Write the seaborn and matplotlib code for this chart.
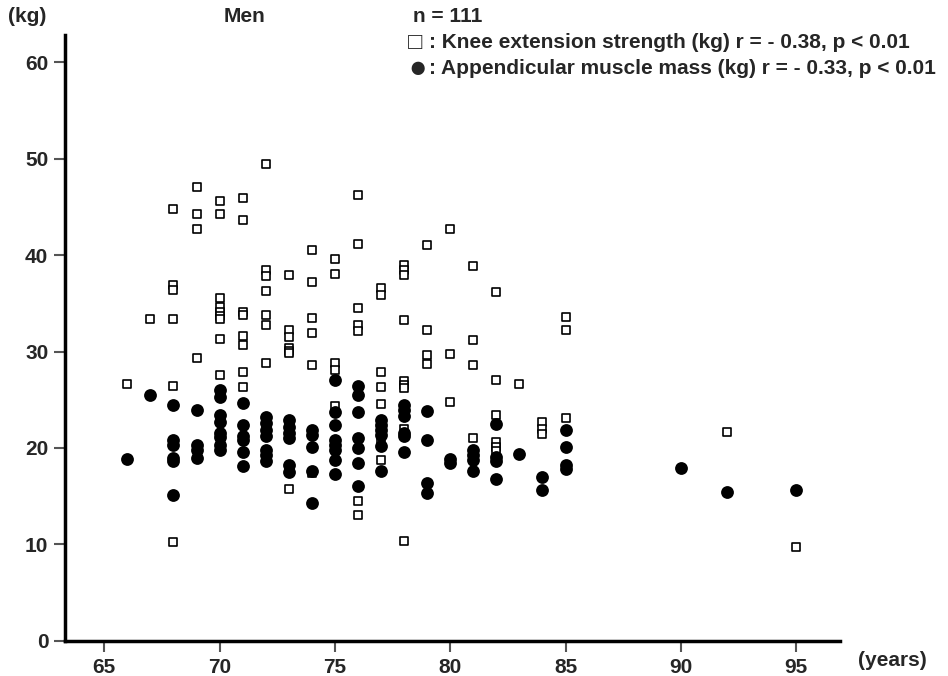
import pandas as pd
import seaborn as sns
from matplotlib import pyplot as plt

# Knee extension strength (open squares)
knee_age = [66, 67,
            68, 68, 68, 68, 68, 68,
            69, 69, 69, 69,
            70, 70, 70, 70, 70, 70, 70, 70, 70,
            71, 71, 71, 71, 71, 71, 71, 71,
            72, 72, 72, 72, 72, 72, 72,
            73, 73, 73, 73, 73, 73, 73,
            74, 74, 74, 74, 74, 74,
            75, 75, 75, 75, 75,
            76, 76, 76, 76, 76, 76, 76,
            77, 77, 77, 77, 77, 77, 77,
            78, 78, 78, 78, 78, 78, 78, 78, 78,
            79, 79, 79, 79,
            80, 80, 80,
            81, 81, 81, 81,
            82, 82, 82, 82, 82, 82,
            83,
            84, 84, 84,
            85, 85, 85,
            92, 95]
knee_kg = [26.6, 33.4,
           44.8, 36.9, 36.4, 33.4, 26.4, 10.2,
           47.1, 44.3, 42.7, 29.3,
           45.6, 44.3, 35.5, 34.6, 34.1, 33.7, 33.4, 31.3, 27.6,
           45.9, 43.6, 34.1, 33.8, 31.6, 30.7, 27.9, 26.3,
           49.4, 38.4, 37.8, 36.3, 33.8, 32.7, 28.8,
           37.9, 32.2, 31.5, 30.4, 30.1, 29.8, 15.7,
           40.5, 37.2, 33.5, 31.9, 28.6, 17.4,
           39.6, 38.0, 28.8, 28.1, 24.4,
           46.2, 41.1, 34.5, 32.7, 32.1, 14.5, 13.0,
           36.6, 35.9, 27.9, 26.3, 24.6, 20.7, 18.8,
           39.0, 38.4, 37.9, 33.3, 26.9, 26.5, 26.2, 22.0, 10.4,
           41.0, 32.2, 29.6, 28.7,
           42.7, 29.7, 24.8,
           38.9, 31.2, 28.6, 21.0,
           36.2, 27.0, 23.4, 20.6, 20.1, 19.7,
           26.6,
           22.7, 22.0, 21.4,
           33.6, 32.2, 23.1,
           21.7, 9.7]

# Appendicular muscle mass (filled circles)
amm_age = [66, 67,
           68, 68, 68, 68, 68, 68,
           69, 69, 69, 69,
           70, 70, 70, 70, 70, 70, 70, 70,
           71, 71, 71, 71, 71, 71,
           72, 72, 72, 72, 72, 72, 72,
           73, 73, 73, 73, 73, 73,
           74, 74, 74, 74, 74,
           75, 75, 75, 75, 75, 75, 75, 75,
           76, 76, 76, 76, 76, 76, 76,
           77, 77, 77, 77, 77, 77,
           78, 78, 78, 78, 78, 78,
           79, 79, 79, 79,
           80, 80,
           81, 81, 81, 81,
           82, 82, 82, 82,
           83,
           84, 84,
           85, 85, 85, 85,
           90, 92, 95]
amm_kg = [18.9, 25.5,
          24.5, 20.8, 20.3, 19.0, 18.6, 15.1,
          23.9, 20.3, 19.8, 19.0,
          26.0, 25.3, 23.4, 22.7, 21.6, 21.1, 20.3, 19.8,
          24.7, 22.4, 21.2, 20.8, 19.6, 18.1,
          23.2, 22.6, 21.9, 21.2, 19.8, 19.3, 18.6,
          22.9, 22.2, 21.5, 21.0, 18.2, 17.5,
          21.9, 21.3, 20.1, 17.6, 14.3,
          27.0, 23.7, 22.4, 20.8, 20.3, 19.8, 18.8, 17.3,
          26.4, 25.5, 23.7, 21.0, 20.0, 18.4, 16.1,
          22.9, 22.4, 21.9, 21.3, 20.2, 17.6,
          24.5, 23.9, 23.3, 21.5, 21.2, 19.6,
          23.8, 20.8, 16.4, 15.3,
          18.9, 18.4,
          19.8, 19.3, 18.8, 17.6,
          22.5, 19.1, 18.6, 16.8,
          19.4,
          17.0, 15.6,
          21.9, 20.1, 18.2, 17.8,
          17.9, 15.4, 15.6]

knee = pd.DataFrame({'age': knee_age, 'kg': knee_kg})
amm = pd.DataFrame({'age': amm_age, 'kg': amm_kg})

sns.set_style('white')
plt.rcParams['font.family'] = ['Liberation Sans Narrow', 'Liberation Sans', 'DejaVu Sans']
plt.rcParams['font.weight'] = 'bold'

fig = plt.figure(figsize=(9.48, 6.76), dpi=100)
ax = fig.add_axes([0.0686, 0.052, 0.8175, 0.896])

sns.scatterplot(x='age', y='kg', data=knee, ax=ax, marker='s', s=38,
                facecolor='white', edgecolor='black', linewidth=1.2, zorder=2)
sns.scatterplot(x='age', y='kg', data=amm, ax=ax, marker='o', s=85,
                color='black', edgecolor='black', linewidth=0, zorder=3)

ax.set_xlim(63.3, 96.9)
ax.set_ylim(0, 62.8)
ax.set_xticks([65, 70, 75, 80, 85, 90, 95])
ax.set_yticks([0, 10, 20, 30, 40, 50, 60])
ax.set_xlabel('')
ax.set_ylabel('')
sns.despine(ax=ax)
for side in ['left', 'bottom']:
    ax.spines[side].set_linewidth(2.5)
    ax.spines[side].set_color('black')
ax.tick_params(axis='both', direction='out', length=8, width=1.5, color='#555555',
               labelsize=15, pad=4, left=True, bottom=True)
for lab in ax.get_xticklabels() + ax.get_yticklabels():
    lab.set_fontweight('bold')

fig.text(8 / 948, 1 - 17 / 676, '(kg)', fontsize=15, fontweight='bold', va='center')
fig.text(224 / 948, 1 - 17 / 676, 'Men', fontsize=15, fontweight='bold', va='center')
fig.text(413 / 948, 1 - 17 / 676, 'n = 111', fontsize=15, fontweight='bold', va='center')
fig.text(408 / 948, 1 - 43 / 676, '\u25a1', fontsize=17, fontweight='normal', va='center')
fig.text(408 / 948, 1 - 69 / 676, '\u25cf', fontsize=22, fontweight='normal', va='center')
fig.text(429 / 948, 1 - 43 / 676, ': Knee extension strength (kg) r = - 0.38, p < 0.01',
         fontsize=15, fontweight='bold', va='center')
fig.text(429 / 948, 1 - 69 / 676, ': Appendicular muscle mass (kg) r = - 0.33, p < 0.01',
         fontsize=15, fontweight='bold', va='center')
fig.text(858 / 948, 1 - 660 / 676, '(years)', fontsize=15, fontweight='bold', va='center')

fig.savefig('out.png', dpi=100)
